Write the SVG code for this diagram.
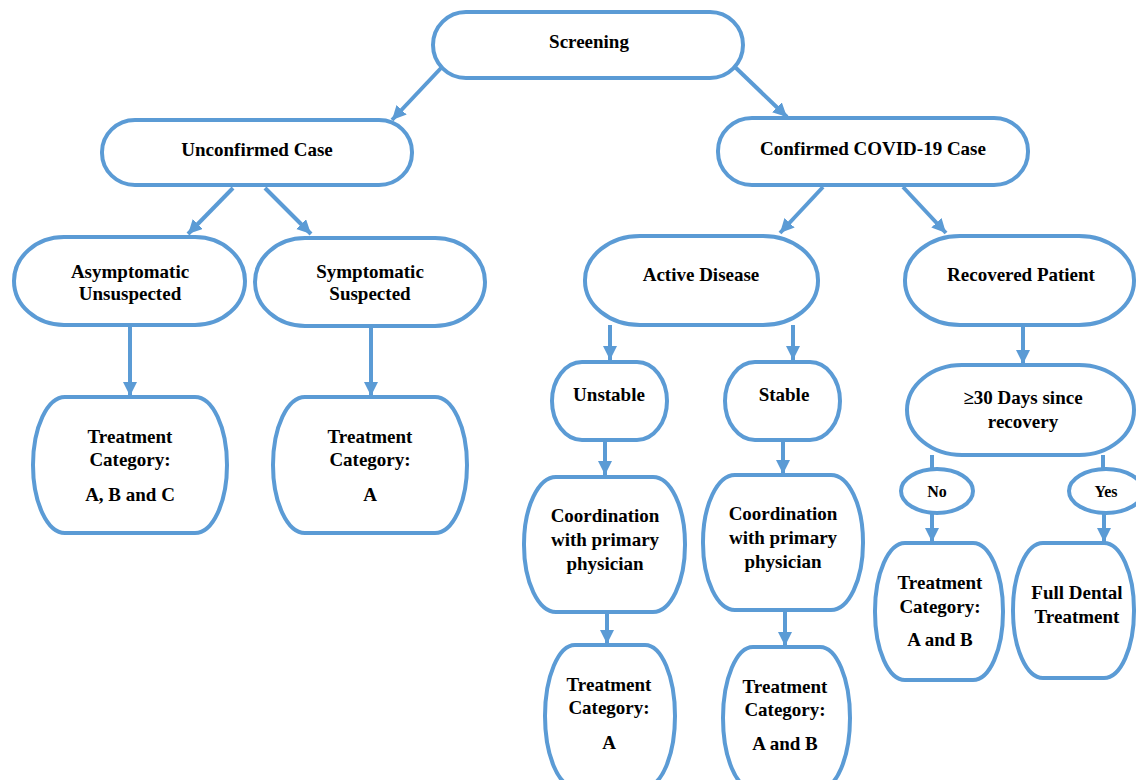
<svg xmlns="http://www.w3.org/2000/svg" width="1136" height="780" viewBox="0 0 1136 780">
<defs>
<marker id="ah" markerUnits="userSpaceOnUse" markerWidth="16" markerHeight="16" refX="14" refY="7" orient="auto">
<path d="M0,0 L14,7 L0,14 Z" fill="#5B9BD5"/>
</marker>
<style>
.n{fill:#fff;stroke:#5B9BD5;stroke-width:4}
.c{stroke:#5B9BD5;stroke-width:4;fill:none}
.a{stroke:#5B9BD5;stroke-width:4;fill:none;marker-end:url(#ah)}
text{font-family:"Liberation Serif","Times New Roman",serif;font-weight:bold;font-size:19px;fill:#000;text-anchor:middle}
.s{font-size:16px}
</style>
</defs>
<rect width="1136" height="780" fill="#fff"/>
<g id="connectors">
<line class="a" x1="442" y1="67" x2="392" y2="120"/>
<line class="a" x1="735" y1="67" x2="787" y2="117"/>
<line class="a" x1="233" y1="188" x2="188" y2="234"/>
<line class="a" x1="265" y1="188" x2="311" y2="234"/>
<line class="a" x1="823" y1="187" x2="780" y2="233"/>
<line class="a" x1="903" y1="187" x2="946" y2="233"/>
<line class="a" x1="130" y1="325" x2="130" y2="396"/>
<line class="a" x1="371" y1="326" x2="371" y2="396"/>
<line class="a" x1="610" y1="325" x2="610" y2="360"/>
<line class="a" x1="793" y1="325" x2="793" y2="360"/>
<line class="a" x1="1023" y1="325" x2="1023" y2="364"/>
<line class="a" x1="605" y1="440" x2="605" y2="475"/>
<line class="a" x1="783" y1="440" x2="783" y2="474"/>
<line class="a" x1="607" y1="612" x2="607" y2="644"/>
<line class="a" x1="785" y1="610" x2="785" y2="646"/>
<line class="c" x1="932" y1="455" x2="932" y2="470"/>
<line class="c" x1="1103" y1="455" x2="1103" y2="470"/>
<line class="a" x1="932" y1="513" x2="932" y2="542"/>
<line class="a" x1="1104" y1="513" x2="1104" y2="542"/>
</g>
<g id="screening"><rect class="n" x="433" y="12" width="310" height="66" rx="33" ry="33"/><text x="589" y="48">Screening</text></g>
<g id="unconfirmed"><rect class="n" x="102" y="120" width="310" height="65" rx="33" ry="32"/><text x="257" y="156">Unconfirmed Case</text></g>
<g id="confirmed"><rect class="n" x="718" y="118" width="310" height="67" rx="34" ry="33"/><text x="873" y="155">Confirmed COVID-19 Case</text></g>
<g id="asymptomatic"><rect class="n" x="14" y="237" width="231" height="88" rx="50" ry="44"/><text x="130" y="278">Asymptomatic</text><text x="130" y="300">Unsuspected</text></g>
<g id="symptomatic"><rect class="n" x="255" y="238" width="230" height="88" rx="50" ry="44"/><text x="370" y="278">Symptomatic</text><text x="370" y="300">Suspected</text></g>
<g id="treat-abc"><rect class="n" x="33" y="397" width="194" height="136" rx="32" ry="68"/><text x="130" y="443">Treatment</text><text x="130" y="466">Category:</text><text x="130" y="501">A, B and C</text></g>
<g id="treat-a1"><rect class="n" x="273" y="397" width="194" height="136" rx="32" ry="68"/><text x="370" y="443">Treatment</text><text x="370" y="466">Category:</text><text x="370" y="501">A</text></g>
<g id="active"><rect class="n" x="585" y="236" width="233" height="89" rx="55" ry="44"/><text x="701" y="281">Active Disease</text></g>
<g id="recovered"><rect class="n" x="905" y="236" width="229" height="89" rx="55" ry="44"/><text x="1021" y="281">Recovered Patient</text></g>
<g id="unstable"><rect class="n" x="552" y="362" width="115" height="78" rx="30" ry="39"/><text x="609" y="401">Unstable</text></g>
<g id="stable"><rect class="n" x="725" y="362" width="115" height="78" rx="30" ry="39"/><text x="784" y="401">Stable</text></g>
<g id="coord1"><rect class="n" x="524" y="477" width="161" height="135" rx="32" ry="67"/><text x="605" y="522">Coordination</text><text x="605" y="546">with primary</text><text x="605" y="570">physician</text></g>
<g id="coord2"><rect class="n" x="703" y="475" width="160" height="135" rx="32" ry="67"/><text x="783" y="520">Coordination</text><text x="783" y="544">with primary</text><text x="783" y="568">physician</text></g>
<g id="treat-a2"><rect class="n" x="545" y="645" width="130" height="142" rx="30" ry="71"/><text x="609" y="691">Treatment</text><text x="609" y="714">Category:</text><text x="609" y="749">A</text></g>
<g id="treat-ab1"><rect class="n" x="723" y="647" width="127" height="142" rx="30" ry="71"/><text x="785" y="693">Treatment</text><text x="785" y="716">Category:</text><text x="785" y="750">A and B</text></g>
<g id="days30"><rect class="n" x="907" y="365" width="227" height="90" rx="55" ry="45"/><text x="1023" y="404">≥30 Days since</text><text x="1023" y="428">recovery</text></g>
<g id="no"><ellipse class="n" cx="937" cy="491" rx="36" ry="22"/><text class="s" x="937" y="497">No</text></g>
<g id="yes"><ellipse class="n" cx="1106" cy="491" rx="37" ry="22"/><text class="s" x="1106" y="497">Yes</text></g>
<g id="treat-ab2"><rect class="n" x="875" y="543" width="128" height="137" rx="30" ry="68"/><text x="940" y="589">Treatment</text><text x="940" y="613">Category:</text><text x="940" y="646">A and B</text></g>
<g id="fulldental"><rect class="n" x="1013" y="543" width="121" height="135" rx="30" ry="67"/><text x="1077" y="599">Full Dental</text><text x="1077" y="623">Treatment</text></g>
</svg>
